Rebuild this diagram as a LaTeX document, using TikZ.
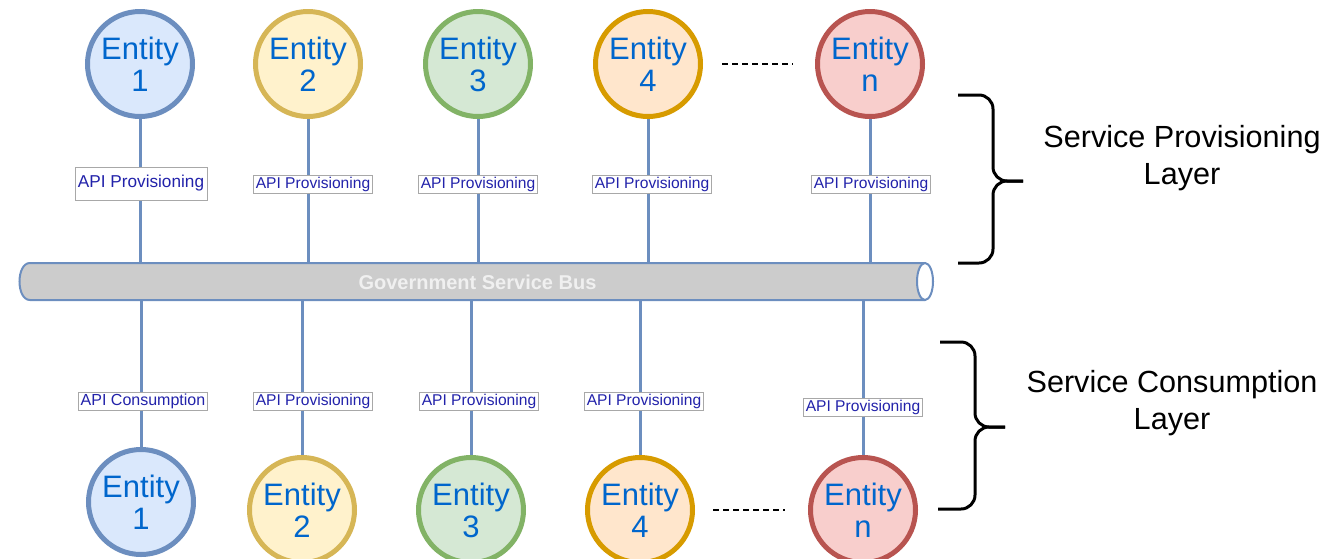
\documentclass[tikz,border=0pt]{standalone}
\usepackage{fontspec}
\setmainfont{Liberation Sans}
\definecolor{bluefill}{HTML}{DAE8FC}
\definecolor{bluedraw}{HTML}{6C8EBF}
\definecolor{yellowfill}{HTML}{FFF2CC}
\definecolor{yellowdraw}{HTML}{D6B656}
\definecolor{greenfill}{HTML}{D5E8D4}
\definecolor{greendraw}{HTML}{82B366}
\definecolor{orangefill}{HTML}{FFE6CC}
\definecolor{orangedraw}{HTML}{D79B00}
\definecolor{redfill}{HTML}{F8CECC}
\definecolor{reddraw}{HTML}{B85450}
\definecolor{entitytext}{HTML}{0066CC}
\definecolor{apitext}{HTML}{2222AA}
\definecolor{apiborder}{HTML}{A8A8A8}
\definecolor{busfill}{HTML}{CCCCCC}

\begin{document}
\begin{tikzpicture}
	[x=0.5pt, y=-0.5pt,
	entity/.style={circle,draw,line width=2.5pt,minimum size=52.5pt,inner sep=0pt,align=center,
		text=entitytext,font=\fontsize{15.5}{16}\selectfont},
	api/.style={draw=apiborder,fill=white,line width=0.5pt,inner xsep=1pt,inner ysep=0.5pt,
		minimum height=9pt,text=apitext,font=\fontsize{7.8}{9}\selectfont},
	link/.style={draw=bluedraw,line width=1.5pt},
	gap/.style={dashed,dash pattern=on 3pt off 2pt,line width=0.6pt},
	brace/.style={line width=1.5pt,rounded corners=7pt},
	layer/.style={align=center,font=\fontsize{15.3}{18.5}\selectfont}]
	\useasboundingbox (0,0) rectangle (1339,558);
	\fill[busfill] (30,263) .. controls (16,263) and (16,300) .. (30,300) -- (925,300) -- (925,263) -- cycle;
	\draw[bluedraw,line width=1pt] (925,263) -- (30,263) .. controls (16,263) and (16,300) .. (30,300) -- (925,300);
	\draw[bluedraw,line width=1pt,fill=white] (925,281.5) ellipse [x radius=4pt, y radius=9.25pt];
	\node (bus) [text=white!94!black,font=\bfseries\fontsize{10}{12}\selectfont,minimum width=457.5pt,
		minimum height=18.5pt,inner sep=0pt] at (477.5,282.5) {Government Service Bus};
	\node (t1) [entity,draw=bluedraw,fill=bluefill] at (140,64) {Entity\\1};
	\node (t2) [entity,draw=yellowdraw,fill=yellowfill] at (308,64) {Entity\\2};
	\node (t3) [entity,draw=greendraw,fill=greenfill] at (478,64) {Entity\\3};
	\node (t4) [entity,draw=orangedraw,fill=orangefill] at (648,64) {Entity\\4};
	\node (tn) [entity,draw=reddraw,fill=redfill] at (870,64) {Entity\\n};
	\node (a1) [api,minimum width=66pt,minimum height=16.5pt,font=\fontsize{8.6}{10}\selectfont] at (141,183.5) {API Provisioning};
	\node (a2) [api] at (313,184) {API Provisioning};
	\node (a3) [api] at (478,184) {API Provisioning};
	\node (a4) [api] at (652,184) {API Provisioning};
	\node (an) [api] at (871,184) {API Provisioning};
	\draw[link] (t1) -- (t1 |- a1.north); \draw[link] (t1 |- a1.south) -- (t1 |- bus.north);
	\draw[link] (t2) -- (t2 |- a2.north); \draw[link] (t2 |- a2.south) -- (t2 |- bus.north);
	\draw[link] (t3) -- (t3 |- a3.north); \draw[link] (t3 |- a3.south) -- (t3 |- bus.north);
	\draw[link] (t4) -- (t4 |- a4.north); \draw[link] (t4 |- a4.south) -- (t4 |- bus.north);
	\draw[link] (tn) -- (tn |- an.north); \draw[link] (tn |- an.south) -- (tn |- bus.north);
	\draw[gap,shorten <=9.5pt,shorten >=11pt] (t4) -- (tn);
	\node (b1) [entity,draw=bluedraw,fill=bluefill] at (141,502) {Entity\\1};
	\node (b2) [entity,draw=yellowdraw,fill=yellowfill] at (302,510) {Entity\\2};
	\node (b3) [entity,draw=greendraw,fill=greenfill] at (471,510) {Entity\\3};
	\node (b4) [entity,draw=orangedraw,fill=orangefill] at (640,510) {Entity\\4};
	\node (bn) [entity,draw=reddraw,fill=redfill] at (863,510) {Entity\\n};
	\node (c1) [api,font=\fontsize{8}{9}\selectfont] at (143,401) {API Consumption};
	\node (c2) [api] at (313,401) {API Provisioning};
	\node (c3) [api] at (479,401) {API Provisioning};
	\node (c4) [api] at (644,401) {API Provisioning};
	\node (cn) [api] at (863,407) {API Provisioning};
	\draw[link] (b1 |- bus.south) -- (b1 |- c1.north); \draw[link] (b1 |- c1.south) -- (b1);
	\draw[link] (b2 |- bus.south) -- (b2 |- c2.north); \draw[link] (b2 |- c2.south) -- (b2);
	\draw[link] (b3 |- bus.south) -- (b3 |- c3.north); \draw[link] (b3 |- c3.south) -- (b3);
	\draw[link] (b4 |- bus.south) -- (b4 |- c4.north); \draw[link] (b4 |- c4.south) -- (b4);
	\draw[link] (bn |- bus.south) -- (bn |- cn.north); \draw[link] (bn |- cn.south) -- (bn);
	\draw[gap,shorten <=9pt,shorten >=11.5pt] (b4) -- (bn);
	\coordinate (ptip) at (1023,181);
	\coordinate (ctip) at (1005,427);
	\draw[brace] (958,95) -| (ptip -| 993,0) -- (ptip);
	\draw[brace] (958,263) -| (ptip -| 993,0) -- (ptip);
	\draw[brace] (940,342) -| (ctip -| 975,0) -- (ctip);
	\draw[brace] (938,509) -| (ctip -| 975,0) -- (ctip);
	\node (prov) [layer] at (1182,158) {Service Provisioning\\Layer};
	\node (cons) [layer] at (1172,403) {Service Consumption\\Layer};
\end{tikzpicture}
\end{document}
